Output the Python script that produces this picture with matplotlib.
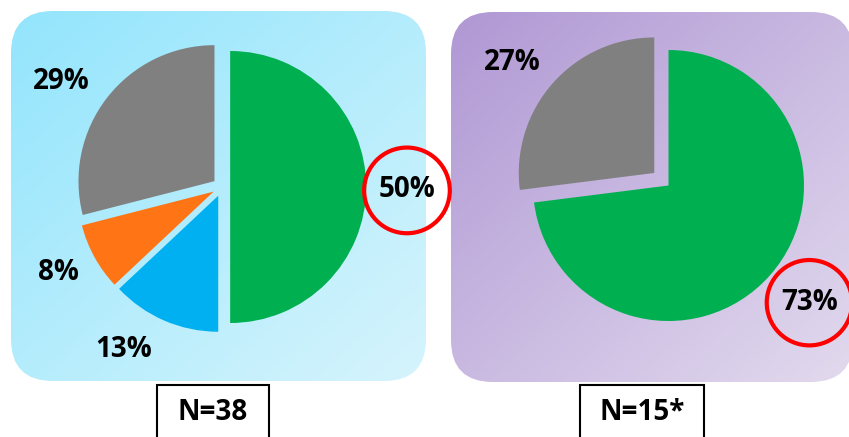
import matplotlib
matplotlib.use("Agg")
import matplotlib.pyplot as plt
import numpy as np
from matplotlib.patches import FancyBboxPatch, Rectangle, Circle
from matplotlib.colors import LinearSegmentedColormap

plt.rcParams['font.family'] = ['Open Sans', 'DejaVu Sans']

# Datos de los dos gráficos de torta
left_values = [29, 8, 13, 50]
left_colors = ['#808080', '#FF7415', '#00B0F0', '#00AF50']
left_explode = [0.07, 0.07, 0.07, 0.06]
left_n = 'N=38'

right_values = [27, 73]
right_colors = ['#808080', '#00AF50']
right_explode = [0.14, 0.0]
right_n = 'N=15*'

# Posición de cada etiqueta (en radios del pie, relativo al centro)
left_label_pos = [(-1.18, 0.80), (-1.20, -0.61), (-0.72, -1.17), (1.36, 0.0)]
right_label_pos = [(-1.15, 0.93), (1.04, -0.84)]

W, H = 849, 437
fig = plt.figure(figsize=(W / 100, H / 100), dpi=100)

# Eje de fondo en coordenadas de píxel
bg = fig.add_axes([0, 0, 1, 1])
bg.set_xlim(0, W)
bg.set_ylim(H, 0)
bg.axis('off')


def panel(x0, y0, x1, y1, c0, c1):
    box = FancyBboxPatch((x0, y0), x1 - x0, y1 - y0,
                         boxstyle='round,pad=0,rounding_size=42',
                         facecolor='none', edgecolor='none')
    bg.add_patch(box)
    xx, yy = np.meshgrid(np.linspace(0, 1, 200), np.linspace(0, 1, 200))
    grad = (xx + yy) / 2
    cmap = LinearSegmentedColormap.from_list('g', [c0, c1])
    im = bg.imshow(grad, cmap=cmap, extent=(x0, x1, y1, y0),
                   origin='upper', interpolation='bilinear', aspect='auto')
    im.set_clip_path(box)


panel(11, 11, 426, 381, '#93E5FC', '#D6F4FD')
panel(451, 12, 853, 382, '#B098D4', '#E2DAEE')
bg.set_xlim(0, W)
bg.set_ylim(H, 0)


def draw_pie(cx, cy, R, values, colors, explode, label_pos, circled):
    ax = fig.add_axes([(cx - R) / W, (H - cy - R) / H, 2 * R / W, 2 * R / H])
    wedges, texts, autotexts = ax.pie(
        values, colors=colors, explode=explode, startangle=90,
        counterclock=True, radius=1, autopct=lambda p: f'{p:.0f}%',
        wedgeprops=dict(linewidth=0),
        textprops=dict(fontsize=20, fontweight='bold', color='black'))
    ax.set_xlim(-1, 1)
    ax.set_ylim(-1, 1)
    ax.axis('off')
    for t, (x, y) in zip(autotexts, label_pos):
        t.set_position((x, y - 0.022))
    for i in circled:
        x, y = label_pos[i]
        ax.add_patch(Circle((x, y - 0.025), 0.315, fill=False,
                            edgecolor='#FF0000', linewidth=3, clip_on=False))
    return ax


draw_pie(222, 187, 136, left_values, left_colors, left_explode,
         left_label_pos, [3])
draw_pie(668.5, 185.5, 135.5, right_values, right_colors, right_explode,
         right_label_pos, [1])

# Cajas con el tamaño de muestra
for x0, x1, label in [(157, 269, left_n), (580, 704, right_n)]:
    bg.add_patch(Rectangle((x0, 385), x1 - x0, 60, facecolor='white',
                           edgecolor='black', linewidth=1.5))
    bg.text((x0 + x1) / 2, 412, label, ha='center', va='center',
            fontsize=20, fontweight='bold')

fig.savefig('out.png', dpi=100)
